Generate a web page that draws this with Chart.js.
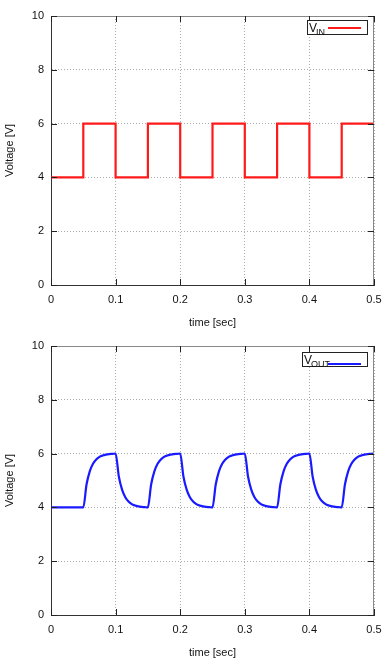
<!DOCTYPE html>
<html>
<head>
<meta charset="utf-8">
<script src="https://cdn.jsdelivr.net/npm/chart.js@4/dist/chart.umd.min.js"></script>
<style>
  body { margin: 0; background: #fff; }
  .box { position: relative; width: 392px; height: 330px; }
</style>
</head>
<body>
<div class="box"><canvas id="vinChart"></canvas></div>
<div class="box"><canvas id="voutChart"></canvas></div>
<script>
// tick labels
const timeTicks = [0, 0.1, 0.2, 0.3, 0.4, 0.5];
const voltTicks = [0, 2, 4, 6, 8, 10];

// input square wave
const vinTime = [0, 0.05, 0.05, 0.1, 0.1, 0.15, 0.15, 0.2, 0.2, 0.25, 0.25, 0.3, 0.3, 0.35, 0.35, 0.4, 0.4, 0.45, 0.45, 0.5];
const vinValues = [4, 4, 6, 6, 4, 4, 6, 6, 4, 4, 6, 6, 4, 4, 6, 6, 4, 4, 6, 6];

// output (RC response), every 5 ms
const voutTime = [
  0, 0.05,
  0.055, 0.06, 0.065, 0.07, 0.075, 0.08, 0.085, 0.09, 0.095, 0.1,
  0.105, 0.11, 0.115, 0.12, 0.125, 0.13, 0.135, 0.14, 0.145, 0.15,
  0.155, 0.16, 0.165, 0.17, 0.175, 0.18, 0.185, 0.19, 0.195, 0.2,
  0.205, 0.21, 0.215, 0.22, 0.225, 0.23, 0.235, 0.24, 0.245, 0.25,
  0.255, 0.26, 0.265, 0.27, 0.275, 0.28, 0.285, 0.29, 0.295, 0.3,
  0.305, 0.31, 0.315, 0.32, 0.325, 0.33, 0.335, 0.34, 0.345, 0.35,
  0.355, 0.36, 0.365, 0.37, 0.375, 0.38, 0.385, 0.39, 0.395, 0.4,
  0.405, 0.41, 0.415, 0.42, 0.425, 0.43, 0.435, 0.44, 0.445, 0.45,
  0.455, 0.46, 0.465, 0.47, 0.475, 0.48, 0.485, 0.49, 0.495, 0.5
];
const voutValues = [
  4.00, 4.00,
  4.85, 5.34, 5.62, 5.78, 5.88, 5.93, 5.96, 5.98, 5.99, 6.00,
  5.15, 4.66, 4.38, 4.22, 4.12, 4.07, 4.04, 4.02, 4.01, 4.00,
  4.85, 5.34, 5.62, 5.78, 5.88, 5.93, 5.96, 5.98, 5.99, 6.00,
  5.15, 4.66, 4.38, 4.22, 4.12, 4.07, 4.04, 4.02, 4.01, 4.00,
  4.85, 5.34, 5.62, 5.78, 5.88, 5.93, 5.96, 5.98, 5.99, 6.00,
  5.15, 4.66, 4.38, 4.22, 4.12, 4.07, 4.04, 4.02, 4.01, 4.00,
  4.85, 5.34, 5.62, 5.78, 5.88, 5.93, 5.96, 5.98, 5.99, 6.00,
  5.15, 4.66, 4.38, 4.22, 4.12, 4.07, 4.04, 4.02, 4.01, 4.00,
  4.85, 5.34, 5.62, 5.78, 5.88, 5.93, 5.96, 5.98, 5.99, 6.00
];

const FONT = "'Liberation Sans', Arial, sans-serif";

// gnuplot-like frame: top/right border and inward ticks on all sides
const framePlugin = {
  id: "frame",
  afterDraw(chart) {
    const { ctx, chartArea: a, scales } = chart;
    ctx.save();
    ctx.strokeStyle = "#888";
    ctx.lineWidth = 1;
    ctx.beginPath();
    ctx.moveTo(a.left, a.top + 0.5);
    ctx.lineTo(a.right - 0.5, a.top + 0.5);
    ctx.lineTo(a.right - 0.5, a.bottom);
    ctx.stroke();
    ctx.strokeStyle = "#222";
    ctx.beginPath();
    timeTicks.forEach((t) => {
      const px = Math.round(scales.x.getPixelForValue(t)) + 0.5;
      ctx.moveTo(px, a.bottom);
      ctx.lineTo(px, a.bottom - 6);
      ctx.moveTo(px, a.top);
      ctx.lineTo(px, a.top + 6);
    });
    voltTicks.forEach((v) => {
      const py = Math.round(scales.y.getPixelForValue(v)) + 0.5;
      ctx.moveTo(a.left, py);
      ctx.lineTo(a.left + 6, py);
      ctx.moveTo(a.right, py);
      ctx.lineTo(a.right - 6, py);
    });
    ctx.stroke();
    ctx.restore();
  },
};

// key box with subscript label
const keyPlugin = {
  id: "key",
  afterDraw(chart, args, opts) {
    const { ctx, chartArea: a } = chart;
    const bx = a.right - opts.boxWidth - 7;
    const by = a.top + opts.boxTop;
    ctx.save();
    ctx.fillStyle = "#fff";
    ctx.fillRect(bx, by, opts.boxWidth, 14);
    ctx.strokeStyle = "#222";
    ctx.lineWidth = 1;
    ctx.strokeRect(bx + 0.5, by + 0.5, opts.boxWidth, 14);
    ctx.fillStyle = "#111";
    ctx.font = "12px " + FONT;
    ctx.textBaseline = "alphabetic";
    ctx.fillText("V", bx + 2, by + 12);
    ctx.font = "9px " + FONT;
    ctx.fillText(opts.sub, bx + 9, by + 15);
    ctx.strokeStyle = opts.color;
    ctx.lineWidth = 2;
    ctx.beginPath();
    ctx.moveTo(a.right - 46, by + opts.lineY);
    ctx.lineTo(a.right - 13, by + opts.lineY);
    ctx.stroke();
    ctx.restore();
  },
};

const makeChart = (id, xs, ys, color, sub, boxWidth, boxTop, lineY, smooth) => {
  const ctx = document.getElementById(id).getContext("2d");
  return new Chart(ctx, {
    type: "line",
    data: {
      datasets: [
        {
          data: xs.map((t, i) => ({ x: t, y: ys[i] })),
          borderColor: color,
          borderWidth: 2.2,
          pointRadius: 0,
          fill: false,
          cubicInterpolationMode: smooth ? "monotone" : "default",
          tension: 0,
        },
      ],
    },
    options: {
      responsive: false,
      animation: false,
      events: [],
      layout: { padding: { left: 0, right: 18, top: 16, bottom: 0 } },
      plugins: {
        legend: { display: false },
        tooltip: { enabled: false },
        key: { sub, color, boxWidth, boxTop, lineY },
      },
      scales: {
        x: {
          type: "linear",
          min: 0,
          max: 0.5,
          afterBuildTicks: (scale) => {
            scale.ticks = timeTicks.map((v) => ({ value: v }));
          },
          afterFit: (scale) => {
            scale.height = 45;
          },
          ticks: {
            color: "#111",
            padding: 8,
            font: { family: FONT, size: 11 },
            callback: (v) => String(v),
            maxRotation: 0,
          },
          grid: {
            color: "#aaa",
            drawTicks: false,
          },
          border: { color: "#333", dash: [1, 2] },
          title: {
            display: true,
            text: "time [sec]",
            color: "#111",
            font: { family: FONT, size: 11 },
            padding: { top: 4, bottom: 0 },
          },
        },
        y: {
          min: 0,
          max: 10,
          afterBuildTicks: (scale) => {
            scale.ticks = voltTicks.map((v) => ({ value: v }));
          },
          afterFit: (scale) => {
            scale.width = 51;
          },
          ticks: {
            color: "#111",
            padding: 7,
            font: { family: FONT, size: 11 },
          },
          grid: {
            color: "#aaa",
            drawTicks: false,
          },
          border: { color: "#333", dash: [1, 2] },
          title: {
            display: true,
            text: "Voltage [V]",
            color: "#111",
            font: { family: FONT, size: 11 },
            padding: { top: 3, bottom: 4 },
          },
        },
      },
    },
    plugins: [framePlugin, keyPlugin],
  });
};

// set canvas size explicitly
["vinChart", "voutChart"].forEach((id) => {
  const c = document.getElementById(id);
  c.width = 392;
  c.height = 330;
  c.style.width = "392px";
  c.style.height = "330px";
});

makeChart("vinChart", vinTime, vinValues, "#ff1a1a", "IN", 60, 4, 8, false);
makeChart("voutChart", voutTime, voutValues, "#1a1aff", "OUT", 65, 6, 12, true);
</script>
</body>
</html>
